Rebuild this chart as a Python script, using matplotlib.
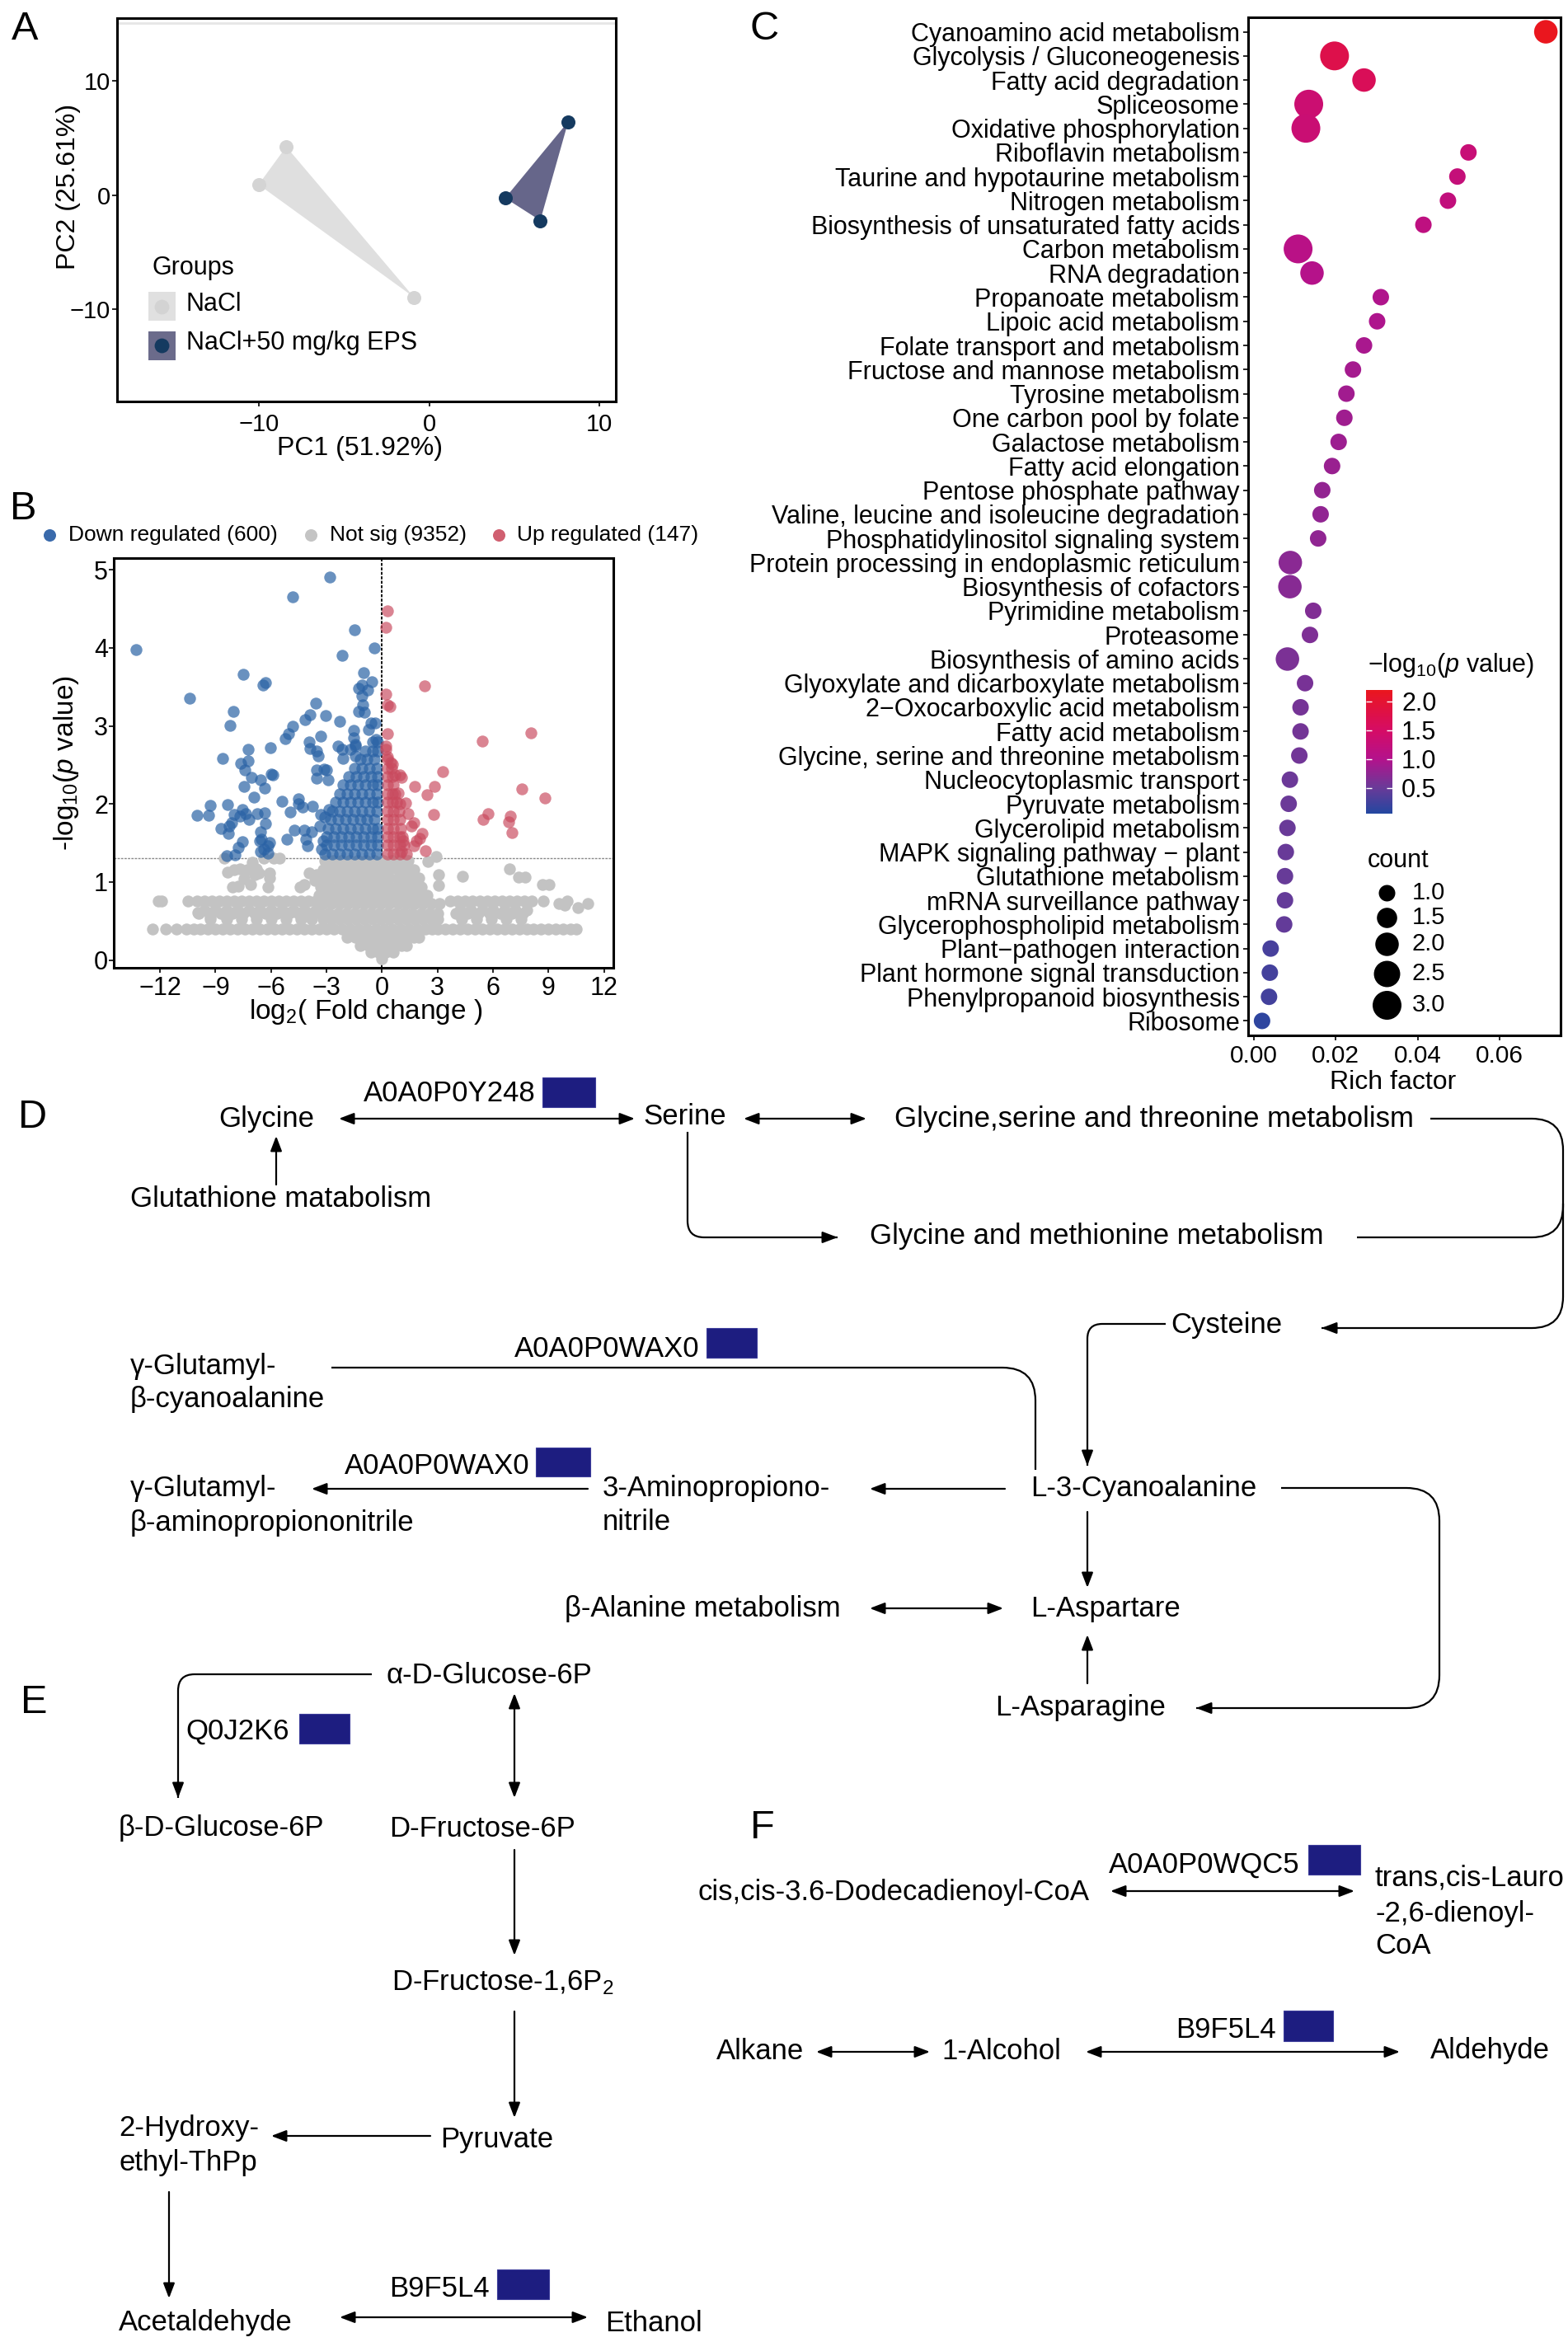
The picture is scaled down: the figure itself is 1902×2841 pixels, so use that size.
import numpy as np
import matplotlib
matplotlib.use('Agg')
import matplotlib.pyplot as plt
from matplotlib.path import Path
from matplotlib.patches import PathPatch, Rectangle
from matplotlib.colors import LinearSegmentedColormap

plt.rcParams['font.family'] = ['Liberation Sans', 'DejaVu Sans']
plt.rcParams['mathtext.fontset'] = 'custom'
plt.rcParams['mathtext.rm'] = 'Liberation Sans'
plt.rcParams['mathtext.it'] = 'Liberation Sans:italic'

# ---------------- data ----------------
# A: PCA scores
pca_nacl_x = [-8.38, -10.0, -0.89]
pca_nacl_y = [4.23, 0.91, -8.96]
pca_eps_x = [8.16, 4.46, 6.52]
pca_eps_y = [6.43, -0.27, -2.24]

# B: volcano, points (log2FC, -log10 p)
ns_rows = [
    (1.27, [-3.1, -2.65, -2.2, -1.75, -1.3, -0.85, -0.4, 0.05, 0.5, 0.95, 1.4]),
    (1.16, [-3.2, -2.75, -2.3, -1.85, -1.4, -0.95, -0.5, -0.05, 0.4, 0.85, 1.3, 1.7]),
    (1.05, [-3.2, -2.75, -2.3, -1.85, -1.4, -0.95, -0.5, -0.05, 0.4, 0.85, 1.3, 1.75, 2.0]),
    (0.94, [-3.3, -2.85, -2.4, -1.95, -1.5, -1.05, -0.6, -0.15, 0.3, 0.75, 1.2, 1.65, 2.1]),
    (0.83, [-3.4, -2.95, -2.5, -2.05, -1.6, -1.15, -0.7, -0.25, 0.2, 0.65, 1.1, 1.55, 2.0, 2.45]),
    (0.76, [-12.1, -11.9, -10.5, -10.0, -9.6, -9.2, -8.8, -8.4, -8.0, -7.6, -7.2, -6.8, -6.4, -6.0,
            -5.6, -5.2, -4.8, -4.4, -4.0, -3.6, 3.7, 4.1, 4.5, 4.9, 5.3, 5.7, 6.1, 6.5, 6.9, 7.3,
            7.7, 8.1, 8.7, 10.0]),
    (0.72, [-3.2, -2.75, -2.3, -1.85, -1.4, -0.95, -0.5, -0.05, 0.4, 0.85, 1.3, 1.75, 2.2, 2.65,
            3.1, 9.55, 11.1]),
    (0.64, [-9.6, -9.0, -8.4, -7.8, -7.2, -6.6, -6.0, -5.4, -4.8, -4.2, -3.6, 4.2, 4.8, 5.4,
            6.0, 6.6, 7.2, 7.8]),
    (0.60, [-9.9, -9.3, -8.7, -8.1, -7.5, -6.9, -6.3, -5.7, -5.1, -4.5, -3.9, -3.3, -2.85, -2.4,
            -1.95, -1.5, -1.05, -0.6, -0.15, 0.3, 0.75, 1.2, 1.65, 2.1, 2.55, 3.0, 4.0, 4.6, 5.2,
            5.8, 6.4, 7.0, 7.6]),
    (0.52, [-9.3, -8.4, -7.6, -6.8, -6.0, -5.2, -4.4, -3.8, -3.2, -2.75, -2.3, -1.85, -1.4, -0.95,
            -0.5, -0.05, 0.4, 0.85, 1.3, 1.75, 2.2, 2.65, 3.0, 4.3, 5.1, 5.9, 6.7, 7.5]),
    (0.40, [-12.4, -11.7, -11.1, -10.6, -10.2, -9.8, -9.4, -9.0, -8.6, -8.2, -7.8, -7.4, -7.0,
            -6.6, -6.2, -5.8, -5.4, -5.0, -4.6, -4.2, -3.8, -3.4, -3.0, -2.6, -2.15, -1.7, -1.25,
            -0.8, -0.35, 0.1, 0.55, 1.0, 1.45, 1.9, 2.35, 2.7, 3.0, 3.4, 3.8, 4.2, 4.6, 5.0, 5.4,
            5.8, 6.2, 6.6, 7.0, 7.4, 7.8, 8.2, 8.6, 9.0, 9.4, 9.8, 10.2, 10.5]),
    (0.29, [-1.9, -1.45, -1.0, -0.55, -0.1, 0.35, 0.8, 1.25, 1.7, 2.0]),
    (0.19, [-1.2, -0.75, -0.3, 0.15, 0.6, 1.05, 1.3]),
    (0.10, [-0.6, -0.2, 0.2, 0.6]),
    (0.02, [0.0]),
]
ns_extra = [(-8.52, 1.30), (-7.01, 1.25), (-6.37, 1.31), (-5.85, 1.31), (-5.55, 1.31),
            (-8.37, 1.13), (-8.0, 1.16), (-7.7, 1.17), (-7.26, 1.16), (-6.81, 1.17), (-6.89, 1.09),
            (-6.66, 1.11), (-6.07, 1.11), (-6.07, 1.05), (-6.15, 0.93), (-7.48, 1.04), (-7.1, 0.97),
            (-7.77, 0.95), (-8.07, 0.93), (-4.22, 0.97), (-4.44, 0.93), (-3.92, 1.12), (-3.55, 1.09),
            (-3.62, 1.02), (-9.94, 0.61), (-9.28, 0.56), (-8.39, 0.54), (-4.96, 0.61), (2.91, 1.33),
            (2.47, 1.26), (4.35, 1.07), (3.06, 1.09), (3.06, 0.96), (6.89, 1.17), (7.36, 1.06),
            (7.73, 1.06), (8.66, 0.97), (9.03, 0.97), (9.89, 0.70), (10.59, 0.67)]

down_rows = [
    (1.36, [-3.1, -2.7, -2.3, -1.9, -1.5, -1.1, -0.7, -0.3]),
    (1.47, [-3.0, -2.6, -2.2, -1.8, -1.4, -1.0, -0.6, -0.25]),
    (1.58, [-3.0, -2.6, -2.2, -1.8, -1.4, -1.0, -0.6, -0.25]),
    (1.69, [-2.9, -2.5, -2.1, -1.7, -1.3, -0.9, -0.5, -0.25]),
    (1.80, [-2.8, -2.4, -2.0, -1.6, -1.2, -0.8, -0.4]),
    (1.91, [-2.7, -2.3, -1.9, -1.5, -1.1, -0.7, -0.3]),
    (2.02, [-2.5, -2.1, -1.7, -1.3, -0.9, -0.5, -0.25]),
    (2.13, [-2.3, -1.9, -1.5, -1.1, -0.7, -0.3]),
    (2.24, [-2.1, -1.7, -1.3, -0.9, -0.5, -0.25]),
    (2.35, [-1.8, -1.4, -1.0, -0.6, -0.25]),
    (2.46, [-1.5, -1.1, -0.7, -0.3]),
    (2.57, [-1.2, -0.8, -0.4]),
    (2.68, [-0.9, -0.5, -0.25]),
    (2.79, [-0.5, -0.25]),
]
down_extra = [(-2.81, 4.91), (-4.84, 4.65), (-13.3, 3.98), (-1.51, 4.23), (-2.17, 3.90), (-0.43, 4.00),
              (-7.51, 3.66), (-6.30, 3.56), (-6.44, 3.52), (-10.38, 3.35), (-8.03, 3.18), (-8.21, 3.01),
              (-3.58, 3.29), (-3.89, 3.14), (-4.17, 3.08), (-3.03, 3.13), (-2.29, 3.06), (-4.81, 3.00),
              (-5.04, 2.90), (-5.23, 2.84), (-3.30, 2.87), (-3.96, 2.79), (-3.89, 2.71), (-3.55, 2.68),
              (-3.45, 2.61), (-6.03, 2.72), (-7.22, 2.70), (-8.60, 2.58), (-7.63, 2.52), (-7.23, 2.55),
              (-1.02, 3.68), (-1.10, 3.52), (-0.55, 3.57), (-0.76, 3.46), (-1.26, 3.48), (-1.07, 3.39),
              (-1.03, 3.27), (-1.26, 3.18), (-0.97, 3.17), (-0.58, 3.04), (-0.36, 3.04), (-0.72, 2.95),
              (-1.54, 2.94), (-1.54, 2.85), (-1.46, 2.76), (-0.31, 2.83), (-2.39, 2.74), (-2.17, 2.70),
              (-1.72, 2.70), (-1.43, 2.74), (-2.10, 2.58), (-1.43, 2.62), (-7.41, 2.43), (-7.08, 2.34),
              (-6.59, 2.31), (-5.99, 2.38), (-5.88, 2.37), (-7.45, 2.22), (-6.34, 2.20), (-6.92, 2.09),
              (-9.29, 1.98), (-8.33, 1.99), (-9.98, 1.85), (-9.39, 1.85), (-7.55, 1.93), (-7.99, 1.86),
              (-7.69, 1.84), (-7.35, 1.88), (-7.18, 1.80), (-6.74, 1.88), (-6.34, 1.89), (-8.15, 1.76),
              (-8.25, 1.72), (-8.69, 1.69), (-8.31, 1.62), (-6.59, 1.64), (-6.52, 1.55), (-6.62, 1.53),
              (-6.29, 1.75), (-7.55, 1.52), (-7.77, 1.44), (-7.95, 1.35), (-8.40, 1.34), (-6.07, 1.51),
              (-6.15, 1.46), (-6.37, 1.42), (-6.59, 1.39), (-6.15, 1.37), (-5.40, 2.03), (-4.54, 2.07),
              (-4.51, 2.00), (-4.96, 1.90), (-4.30, 1.96), (-3.78, 1.97), (-4.73, 1.66), (-4.22, 1.66),
              (-3.80, 1.64), (-5.13, 1.55), (-4.11, 1.55), (-4.03, 1.46), (-3.37, 1.72), (-3.10, 1.83),
              (-2.88, 1.93), (-3.33, 1.86), (-3.53, 2.44), (-3.56, 2.33), (-3.16, 2.45), (-2.91, 2.31),
              (-3.18, 1.53), (-3.25, 1.42), (-3.0, 2.44)]

up_rows = [
    (1.36, [0.27, 0.6, 0.95, 1.3]),
    (1.47, [0.27, 0.6, 0.95, 1.2]),
    (1.58, [0.27, 0.6, 0.95, 1.1]),
    (1.69, [0.27, 0.6, 1.0]),
    (1.80, [0.27, 0.6, 0.95]),
    (1.91, [0.27, 0.6, 0.9]),
    (2.02, [0.27, 0.55, 0.8]),
    (2.13, [0.27, 0.55, 0.7]),
    (2.24, [0.27, 0.6]),
    (2.35, [0.27, 0.55]),
    (2.46, [0.27, 0.5]),
    (2.57, [0.27]),
]
up_extra = [(0.27, 4.47), (0.22, 4.26), (2.29, 3.51), (0.21, 3.41), (0.31, 3.27), (0.43, 3.25),
            (0.30, 2.90), (5.43, 2.80), (8.06, 2.91), (0.2, 2.74), (0.2, 2.70), (0.31, 2.60),
            (0.46, 2.53), (0.58, 2.51), (3.28, 2.41), (1.75, 2.22), (2.81, 2.22), (2.42, 2.12),
            (7.54, 2.19), (8.80, 2.08), (5.73, 1.88), (5.48, 1.80), (6.92, 1.84), (6.85, 1.77),
            (7.04, 1.63), (2.79, 1.87), (1.40, 1.88), (1.28, 2.01), (0.98, 2.00), (1.72, 1.76),
            (1.57, 1.72), (2.17, 1.62), (2.02, 1.56), (1.72, 1.46), (2.32, 1.40), (1.87, 1.53),
            (0.88, 2.14), (0.94, 2.37), (1.06, 2.34), (0.68, 2.37), (1.13, 1.53), (1.06, 1.39)]

# C: KEGG enrichment
pathways = ['Cyanoamino acid metabolism', 'Glycolysis / Gluconeogenesis', 'Fatty acid degradation',
            'Spliceosome', 'Oxidative phosphorylation', 'Riboflavin metabolism',
            'Taurine and hypotaurine metabolism', 'Nitrogen metabolism',
            'Biosynthesis of unsaturated fatty acids', 'Carbon metabolism', 'RNA degradation',
            'Propanoate metabolism', 'Lipoic acid metabolism', 'Folate transport and metabolism',
            'Fructose and mannose metabolism', 'Tyrosine metabolism', 'One carbon pool by folate',
            'Galactose metabolism', 'Fatty acid elongation', 'Pentose phosphate pathway',
            'Valine, leucine and isoleucine degradation', 'Phosphatidylinositol signaling system',
            'Protein processing in endoplasmic reticulum', 'Biosynthesis of cofactors',
            'Pyrimidine metabolism', 'Proteasome', 'Biosynthesis of amino acids',
            'Glyoxylate and dicarboxylate metabolism', '2\u2212Oxocarboxylic acid metabolism',
            'Fatty acid metabolism', 'Glycine, serine and threonine metabolism',
            'Nucleocytoplasmic transport', 'Pyruvate metabolism', 'Glycerolipid metabolism',
            'MAPK signaling pathway \u2212 plant', 'Glutathione metabolism',
            'mRNA surveillance pathway', 'Glycerophospholipid metabolism',
            'Plant\u2212pathogen interaction', 'Plant hormone signal transduction',
            'Phenylpropanoid biosynthesis', 'Ribosome']
rich_factor = [0.0713, 0.0197, 0.0269, 0.0134, 0.0127, 0.0524, 0.0497, 0.0474, 0.0414, 0.0108,
               0.0142, 0.0310, 0.0301, 0.0269, 0.0242, 0.0226, 0.0221, 0.0207, 0.0191, 0.0167,
               0.0163, 0.0157, 0.0089, 0.0088, 0.0145, 0.0137, 0.0082, 0.0125, 0.0114, 0.0114,
               0.0111, 0.0088, 0.0085, 0.0082, 0.0078, 0.0076, 0.0076, 0.0074, 0.0041, 0.0039,
               0.0037, 0.0020]
gene_count = [2, 3, 2, 3, 3, 1, 1, 1, 1, 3, 2, 1, 1, 1, 1, 1, 1, 1, 1, 1, 1, 1, 2, 2, 1, 1, 2,
              1, 1, 1, 1, 1, 1, 1, 1, 1, 1, 1, 1, 1, 1, 1]
neg_log_p = [2.19, 1.75, 1.62, 1.35, 1.32, 1.28, 1.24, 1.20, 1.15, 1.08, 1.03, 0.98, 0.96, 0.93,
             0.90, 0.88, 0.86, 0.84, 0.82, 0.78, 0.77, 0.76, 0.72, 0.70, 0.66, 0.64, 0.62, 0.60,
             0.58, 0.57, 0.56, 0.52, 0.51, 0.50, 0.49, 0.48, 0.47, 0.46, 0.28, 0.27, 0.26, 0.12]
count_breaks = [1.0, 1.5, 2.0, 2.5, 3.0]

# ---------------- figure ----------------
W, H = 1902, 2841
fig = plt.figure(figsize=(W / 100, H / 100), dpi=100)


def ax_box(l, t, r, b):
    return fig.add_axes([l / W, 1 - b / H, (r - l) / W, (b - t) / H])


def style_axes(ax, lw=2.2):
    for s in ax.spines.values():
        s.set_linewidth(lw)
        s.set_color('black')
    ax.tick_params(length=4, width=1.2, color='black')


def dot_size(c):
    d = 20 + 15 * (np.sqrt(c) - 1) / (np.sqrt(3) - 1)  # px
    return (d * 0.72) ** 2


# ----- A: PCA -----
axA = ax_box(142, 22, 747, 487)
style_axes(axA)
axA.fill(pca_nacl_x, pca_nacl_y, color='#dfdfdf', lw=0, zorder=1)
axA.fill(pca_eps_x, pca_eps_y, color='#66668a', lw=0, zorder=1)
axA.scatter(pca_nacl_x, pca_nacl_y, s=150, color='#d4d4d4', zorder=3, lw=0)
axA.scatter(pca_eps_x, pca_eps_y, s=150, color='#153a60', zorder=3, lw=0)
axA.axhline(15.1, color='#e6e6e6', lw=2, zorder=0)
axA.set_xlim(-18.3, 10.95)
axA.set_ylim(-18.1, 15.5)
axA.set_xticks([-10, 0, 10])
axA.set_xticklabels(['\u221210', '0', '10'], fontsize=21)
axA.set_yticks([-10, 0, 10])
axA.set_yticklabels(['\u221210', '0', '10'], fontsize=21)
axA.tick_params(axis='x', pad=6)
axA.tick_params(axis='y', pad=2)
axA.set_xlabel('PC1 (51.92%)', fontsize=23, va='top')
axA.xaxis.set_label_coords(0.486, -0.09)
axA.set_ylabel('PC2 (25.61%)', fontsize=23)
axA.yaxis.set_label_coords(-0.072, 0.56)

# ----- B: volcano -----
axB = ax_box(138, 677, 744, 1174)
style_axes(axB)


def unpack(rows, extra):
    xs = [x for y, row in rows for x in row] + [p[0] for p in extra]
    ys = [y for y, row in rows for x in row] + [p[1] for p in extra]
    return xs, ys


nx, ny = unpack(ns_rows, ns_extra)
dx, dy = unpack(down_rows, down_extra)
ux, uy = unpack(up_rows, up_extra)
axB.axvline(0, color='black', ls=(0, (2, 1)), lw=1.3, zorder=1)
axB.axhline(1.3, color='#8a8a8a', ls=(0, (2, 1)), lw=1.0, zorder=1)
axB.scatter(nx, ny, s=108, color='#c3c3c3', lw=0, zorder=2)
axB.scatter(dx, dy, s=108, color='#2a62a5', alpha=0.7, lw=0, zorder=3)
axB.scatter(ux, uy, s=108, color='#c94a5e', alpha=0.68, lw=0, zorder=3)
axB.set_xlim(-14.5, 12.5)
axB.set_ylim(-0.1, 5.15)
bt = [-12, -9, -6, -3, 0, 3, 6, 9, 12]
axB.set_xticks(bt)
axB.set_xticklabels([str(v).replace('-', '\u2212') for v in bt], fontsize=22)
axB.set_yticks([0, 1, 2, 3, 4, 5])
axB.set_yticklabels(['0', '1', '2', '3', '4', '5'], fontsize=22)
axB.tick_params(axis='x', pad=3)
axB.tick_params(axis='y', pad=1)
axB.set_xlabel(r'log$_2$( Fold change )', fontsize=24, va='top')
axB.xaxis.set_label_coords(0.505, -0.072)
axB.set_ylabel(r'-log$_{10}$($\mathit{p}$ value)', fontsize=24)
axB.yaxis.set_label_coords(-0.066, 0.5)

# ----- C: enrichment dot plot -----
axC = ax_box(1513.5, 21, 1893, 1256)
style_axes(axC)
cmap = LinearSegmentedColormap.from_list(
    'kegg', [(0.0, '#2347a0'), (0.21, '#6a3a98'), (0.44, '#b3128c'), (0.67, '#d50c66'),
             (1.0, '#ea161e')])
rows = np.arange(1, len(pathways) + 1)
sc = axC.scatter(rich_factor, rows, s=[dot_size(c) for c in gene_count], c=neg_log_p,
                 cmap=cmap, vmin=0.053, vmax=2.196, lw=0, zorder=3)
axC.set_ylim(len(pathways) + 0.6, 0.4)
axC.set_xlim(-0.0015, 0.0749)
axC.set_yticks(rows)
axC.set_yticklabels(pathways, fontsize=22)
axC.set_xticks([0, 0.02, 0.04, 0.06])
axC.set_xticklabels(['0.00', '0.02', '0.04', '0.06'], fontsize=21.5)
axC.tick_params(axis='x', pad=4)
axC.tick_params(axis='y', pad=3)
axC.set_xlabel('Rich factor', fontsize=23, va='top')
axC.xaxis.set_label_coords(0.465, -0.034)

cax = ax_box(1657, 837, 1689, 987)
cb = fig.colorbar(sc, cax=cax)
cb.outline.set_visible(False)
cb.set_ticks([0.5, 1.0, 1.5, 2.0])
cb.set_ticklabels(['0.5', '1.0', '1.5', '2.0'])
cb.ax.tick_params(labelsize=22, length=5, width=1, color='white', direction='in',
                  left=True, right=True, pad=8)

# ----- overlay for letters, legends and pathway diagrams -----
ov = fig.add_axes([0, 0, 1, 1])
ov.set_xlim(0, W)
ov.set_ylim(H, 0)
ov.axis('off')
ov.set_zorder(10)

for letter, lx, ly in [('A', 14, 36), ('B', 12, 617), ('C', 909, 36), ('D', 22, 1356),
                       ('E', 25, 2065), ('F', 910, 2218)]:
    ov.text(lx, ly, letter, fontsize=35, va='center', ha='left')

# A legend
ov.text(184, 325, 'Groups', fontsize=22, va='center')
ov.add_patch(Rectangle((180, 354), 32.5, 35, color='#e0e0e0', lw=0))
ov.scatter([196], [371.5], s=165, color='#d3d3d3', lw=0)
ov.text(226, 369, 'NaCl', fontsize=22, va='center')
ov.add_patch(Rectangle((180, 401.5), 32.5, 35, color='#6b6b8b', lw=0))
ov.scatter([196], [419], s=165, color='#153a60', lw=0)
ov.text(226, 416, 'NaCl+50 mg/kg EPS', fontsize=22, va='center')

# B legend
for cx, tx, col, lab in [(59.5, 82.7, '#3a6aab', 'Down regulated (600)'),
                         (376.5, 399.7, '#c4c4c4', 'Not sig (9352)'),
                         (605, 627, '#d05f70', 'Up regulated (147)')]:
    ov.scatter([cx], [648.6], s=117, color=col, lw=0)
    ov.text(tx, 648.6, lab, fontsize=19, va='center')

# C legends
ov.text(1659, 807, r'$-$log$_{10}$($\mathit{p}$ value)', fontsize=22, va='center')
ov.text(1659, 1044, 'count', fontsize=22, va='center')
for cb_val, yy in zip(count_breaks, [1083, 1113, 1145, 1181, 1219]):
    ov.scatter([1682], [yy], s=dot_size(cb_val), color='black', lw=0)
    ov.text(1713, yy, '%.1f' % cb_val, fontsize=21, va='center')

# ----- pathway diagrams -----
FS = 25
LW = 1.6
SQ = '#1d1d80'


def label(x, y, s):
    ov.text(x, y, s, fontsize=FS, va='center', ha='left')


def enzyme(x, y, s, box):
    label(x, y, s)
    ov.add_patch(Rectangle((box[0], box[1]), box[2] - box[0], box[3] - box[1],
                           facecolor=SQ, edgecolor='#3c3c9a', lw=0.8))


def arrow(p0, p1, both=False):
    style = '<|-|>' if both else '-|>'
    ov.annotate('', xy=p1, xytext=p0,
                arrowprops=dict(arrowstyle=style + ',head_length=1.1,head_width=0.42',
                                lw=LW, color='black', shrinkA=0, shrinkB=0))


def elbow(pts, r, head=False):
    pts = [np.array(p, dtype=float) for p in pts]
    verts, codes = [pts[0]], [Path.MOVETO]
    for i in range(1, len(pts) - 1):
        d1 = (pts[i] - pts[i - 1]) / np.linalg.norm(pts[i] - pts[i - 1])
        d2 = (pts[i + 1] - pts[i]) / np.linalg.norm(pts[i + 1] - pts[i])
        verts += [pts[i] - d1 * r, pts[i], pts[i] + d2 * r]
        codes += [Path.LINETO, Path.CURVE3, Path.CURVE3]
    verts.append(pts[-1])
    codes.append(Path.LINETO)
    ov.add_patch(PathPatch(Path(verts, codes), fill=False, lw=LW, color='black'))
    if head:
        d = (pts[-1] - pts[-2]) / np.linalg.norm(pts[-1] - pts[-2])
        arrow(tuple(pts[-1] - d * 20), tuple(pts[-1]))


# D
label(265, 1357, 'Glycine')
label(780, 1354, 'Serine')
label(1085, 1357, 'Glycine,serine and threonine metabolism')
label(158, 1455, 'Glutathione matabolism')
label(1055, 1499, 'Glycine and methionine metabolism')
label(1420, 1608, 'Cysteine')
label(158, 1657, '\u03b3-Glutamyl-')
label(158, 1698, '\u03b2-cyanoalanine')
label(158, 1806, '\u03b3-Glutamyl-')
label(158, 1847, '\u03b2-aminopropiononitrile')
label(731, 1805, '3-Aminopropiono-')
label(731, 1847, 'nitrile')
label(1250, 1806, 'L-3-Cyanoalanine')
label(685, 1951, '\u03b2-Alanine metabolism')
label(1250, 1951, 'L-Aspartare')
label(1207, 2072, 'L-Asparagine')
enzyme(441, 1327, 'A0A0P0Y248', (658, 1307, 722, 1343))
enzyme(624, 1637, 'A0A0P0WAX0', (857, 1611, 918, 1647))
enzyme(418, 1779, 'A0A0P0WAX0', (650, 1756, 716, 1791))

arrow((411, 1357), (770, 1357), both=True)
arrow((902, 1357), (1051, 1357), both=True)
arrow((335, 1437), (335, 1378))
elbow([(834, 1373), (834, 1501), (1016, 1501)], 20, head=True)
elbow([(1735, 1357), (1896, 1357), (1896, 1611), (1603, 1611)], 38, head=True)
elbow([(1646, 1501), (1896, 1501), (1896, 1460)], 38)
elbow([(1414, 1606), (1319, 1606), (1319, 1778)], 18, head=True)
elbow([(402, 1659), (1256, 1659), (1256, 1783)], 40)
arrow((1219, 1806), (1055, 1806))
arrow((713, 1806), (378, 1806))
arrow((1319, 1834), (1319, 1926))
arrow((1055, 1951), (1217, 1951), both=True)
arrow((1319, 2042), (1319, 1983))
elbow([(1554, 1805), (1746, 1805), (1746, 2072), (1451, 2072)], 40, head=True)

# E
label(469, 2033, '\u03b1-D-Glucose-6P')
label(144, 2218, '\u03b2-D-Glucose-6P')
label(472, 2218, 'D-Fructose-6P')
label(475, 2405, r'D-Fructose-1,6P$_2$')
label(534, 2596, 'Pyruvate')
label(144, 2581, '2-Hydroxy-')
label(144, 2623, 'ethyl-ThPp')
label(144, 2818, 'Acetaldehyde')
label(734, 2818, 'Ethanol')
enzyme(225, 2100, 'Q0J2K6', (363, 2079, 424, 2115))
enzyme(472, 2776, 'B9F5L4', (603, 2753, 666, 2789))
elbow([(451, 2031), (216, 2031), (216, 2181)], 20, head=True)
arrow((624, 2054), (624, 2181), both=True)
arrow((624, 2244), (624, 2372))
arrow((624, 2440), (624, 2569))
arrow((522, 2591), (329, 2591))
arrow((205, 2659), (205, 2788))
arrow((412, 2811), (713, 2811), both=True)

# F
label(847, 2295, 'cis,cis-3.6-Dodecadienoyl-CoA')
label(1668, 2278, 'trans,cis-Lauro')
label(1668, 2321, '-2,6-dienoyl-')
label(1668, 2361, 'CoA')
label(869, 2488, 'Alkane')
label(1142, 2488, '1-Alcohol')
label(1735, 2488, 'Aldehyde')
enzyme(1345, 2262, 'A0A0P0WQC5', (1587, 2238, 1650, 2274))
enzyme(1426, 2463, 'B9F5L4', (1557, 2439, 1617, 2476))
arrow((1347, 2294), (1643, 2294), both=True)
arrow((990, 2489), (1128, 2489), both=True)
arrow((1317, 2489), (1698, 2489), both=True)

fig.savefig('out.png', dpi=100)
